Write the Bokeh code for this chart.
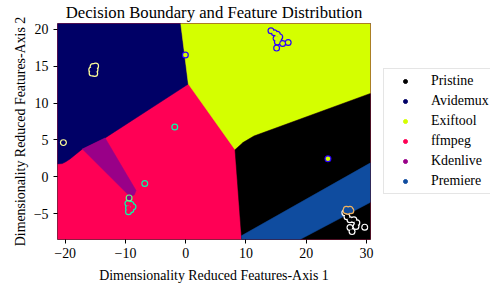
from bokeh.plotting import figure
from bokeh.layouts import row
from bokeh.models import Range1d, FixedTicker, Legend, LegendItem
from bokeh.embed import file_html
from bokeh.resources import INLINE

# ---- data ----
classes = ["Pristine", "Avidemux", "Exiftool", "ffmpeg", "Kdenlive", "Premiere"]
class_colors = ["#000000", "#000066", "#D4FF00", "#FF0055", "#990088", "#0F4C9F"]
edge_colors = ["#FFFFFF", "#FFFF99", "#2B00FF", "#00FFAA", "#66FF77", "#F0B360"]

x_ticks = [-20, -10, 0, 10, 20, 30]
y_ticks = [-5, 0, 5, 10, 15, 20]
x_lim = [-21.28, 30.66]
y_lim = [-8.47, 20.76]

# decision regions (polygon vertices in data space)
ffmpeg_region_x = [-21.28, 30.66, 30.66, -21.28]
ffmpeg_region_y = [-8.47, -8.47, 20.76, 20.76]
avidemux_region_x = [-21.28, -0.83, 0.43, -13.38, -17.15, -19.2, -19.9, -20.5, -21.28]
avidemux_region_y = [20.76, 20.76, 12.57, 5.27, 3.78, 2.43, 2.05, 1.80, 1.76]
exiftool_region_x = [-0.83, 30.66, 30.66, 11.33, 9.56, 8.18, 0.43]
exiftool_region_y = [20.76, 20.76, 11.3, 5.54, 4.68, 3.69, 12.57]
pristine_region_x = [8.18, 9.56, 11.33, 30.66, 30.66, 9.29]
pristine_region_y = [3.69, 4.68, 5.54, 11.3, -8.47, -8.47]
premiere_region_x = [9.23, 30.66, 30.66, 18.97, 9.29]
premiere_region_y = [-7.97, 1.90, -3.43, -8.47, -8.47]
kdenlive_region_x = [-17.15, -13.38, -8.24, -8.55, -9.24]
kdenlive_region_y = [3.78, 5.27, -1.85, -2.45, -2.66]

# samples
pristine_x = [26.4, 26.75, 27.25, 27.9, 28.4, 28.25, 27.25, 27.6, 29.7]
pristine_y = [-4.85, -5.4, -5.8, -5.8, -6.2, -6.7, -6.85, -7.4, -6.8]
avidemux_x = [-15.37, -14.95, -15.6, -15.05, -15.55, -15.1, -15.35, -20.3]
avidemux_y = [14.95, 15.0, 14.5, 14.5, 14.05, 14.0, 14.25, 4.64]
exiftool_x = [14.14, 14.7, 15.2, 15.6, 15.4, 15.0, 15.2, 16.08, 17.0, 15.08, -0.06, 23.6]
exiftool_y = [19.77, 19.5, 19.3, 18.95, 18.6, 18.75, 18.25, 18.05, 18.19, 17.43, 16.5, 2.45]
ffmpeg_x = [-1.82, -6.8, -9.6, -9.1, -8.75, -9.1, -9.5, -9.5]
ffmpeg_y = [6.75, -0.9, -3.6, -3.7, -4.05, -4.45, -4.7, -4.2]
kdenlive_x = [-9.4]
kdenlive_y = [-2.84]
premiere_x = [26.65, 27.25, 26.9, 27.4, 26.6]
premiere_y = [-4.37, -4.37, -4.64, -4.57, -4.57]

FONT = "Liberation Serif"

p = figure(width=382, height=286, output_backend="svg", toolbar_location=None,
           x_range=Range1d(*x_lim), y_range=Range1d(*y_lim),
           min_border_left=57, min_border_right=12, min_border_top=23, min_border_bottom=47)
p.title.text = "Decision Boundary and Feature Distribution"
p.title.text_font = FONT
p.title.text_font_size = "16.7px"
p.title.text_font_style = "normal"
p.title.text_color = "black"
p.title.align = "center"
p.title.vertical_align = "top"
p.title.standoff = 0
p.title.offset = 0
p.grid.visible = False
p.outline_line_color = "#333333"
p.outline_line_width = 1
p.background_fill_color = "white"
p.border_fill_color = "white"

# regions
regions = [
    (ffmpeg_region_x, ffmpeg_region_y, class_colors[3]),
    (avidemux_region_x, avidemux_region_y, class_colors[1]),
    (exiftool_region_x, exiftool_region_y, class_colors[2]),
    (pristine_region_x, pristine_region_y, class_colors[0]),
    (premiere_region_x, premiere_region_y, class_colors[5]),
    (kdenlive_region_x, kdenlive_region_y, class_colors[4]),
]
for rx, ry, c in regions:
    p.patch(rx, ry, fill_color=c, line_color=c, line_width=0.5)

# samples: outline ring (union) then fill
samples = [(pristine_x, pristine_y), (avidemux_x, avidemux_y), (exiftool_x, exiftool_y),
           (ffmpeg_x, ffmpeg_y), (kdenlive_x, kdenlive_y), (premiere_x, premiere_y)]
for i, (sx, sy) in enumerate(samples):
    p.scatter(sx, sy, size=7, fill_color=edge_colors[i], line_color=None)
    p.scatter(sx, sy, size=4.6, fill_color=class_colors[i], line_color=None)

# axes
for ax in (p.xaxis[0], p.yaxis[0]):
    ax.major_label_text_font = FONT
    ax.major_label_text_font_size = "13.9px"
    ax.axis_label_text_font = FONT
    ax.axis_label_text_font_size = "13.9px"
    ax.axis_label_text_font_style = "normal"
    ax.major_tick_out = 4
    ax.major_tick_in = 0
    ax.minor_tick_out = 0
    ax.minor_tick_in = 0
    ax.axis_line_color = None
    ax.major_tick_line_color = "black"
    ax.major_label_text_color = "black"
    ax.axis_label_text_color = "black"
    ax.major_label_standoff = 4

p.xaxis[0].ticker = FixedTicker(ticks=x_ticks)
p.yaxis[0].ticker = FixedTicker(ticks=y_ticks)
p.xaxis[0].major_label_overrides = {t: str(t).replace("-", "\u2212") for t in x_ticks}
p.yaxis[0].major_label_overrides = {t: str(t).replace("-", "\u2212") for t in y_ticks}
p.xaxis[0].axis_label = "Dimensionality Reduced Features-Axis 1"
p.yaxis[0].axis_label = "Dimensionality Reduced Features-Axis 2"
p.xaxis[0].axis_label_standoff = 7
p.yaxis[0].axis_label_standoff = 3
p.yaxis[0].major_label_standoff = 5

# legend in its own narrow figure to the right (frames are aligned in the row)
lg = figure(width=108, height=286, output_backend="svg", toolbar_location=None,
            x_range=Range1d(0, 1), y_range=Range1d(0, 1),
            x_axis_type=None, y_axis_type=None,
            min_border_left=0, min_border_right=0, min_border_top=0, min_border_bottom=0)
lg.grid.visible = False
lg.outline_line_color = None
lg.background_fill_color = "white"
lg.border_fill_color = "white"
items = []
for i, name in enumerate(classes):
    # proxy renderer: one point placed outside the visible range, used only for the legend glyph
    r = lg.scatter(x=[5], y=[5], size=4, fill_color=class_colors[i], line_color=class_colors[i])
    items.append(LegendItem(label=name, renderers=[r]))
legend = Legend(items=items, location=(1, 45), margin=0, padding=2,
                glyph_width=38, glyph_height=10, label_height=20, spacing=0,
                label_standoff=7, label_text_font=FONT, label_text_font_size="13.9px",
                label_text_color="black",
                border_line_color="#CCCCCC", border_line_width=1,
                background_fill_color="white", background_fill_alpha=0.8)
lg.add_layout(legend, "center")

layout = row(p, lg, spacing=0)
open("out.html", "w").write(file_html(layout, INLINE))
